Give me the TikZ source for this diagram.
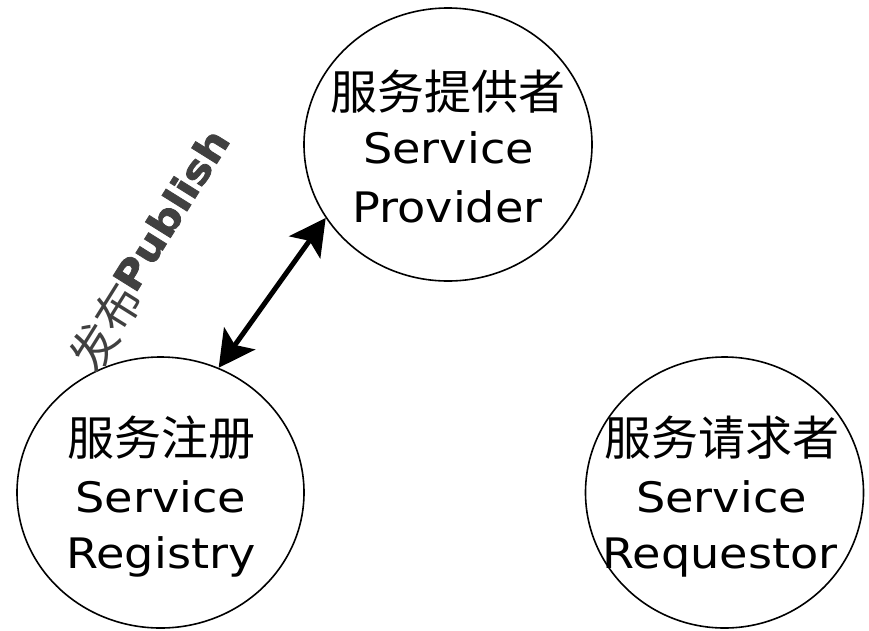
\documentclass[tikz,border=0pt]{standalone}
\usepackage{fontspec}
\newfontfamily\cjk{Noto Sans CJK SC}
\newfontfamily\lat[FakeStretch=1.1]{DejaVu Sans}
\newfontfamily\pubfont[FakeStretch=1.12,FakeBold=2]{DejaVu Sans Bold}
\usetikzlibrary{shapes.geometric,arrows.meta}
\definecolor{labelgray}{HTML}{404040}
\tikzset{
  ell/.style={draw=black, line width=1.6pt, ellipse, inner sep=0pt},
  cjkline/.style={anchor=base, inner sep=0pt, font=\cjk\fontsize{47}{50}\selectfont},
  latline/.style={anchor=base, inner sep=0pt, font=\lat\fontsize{42}{50}\selectfont},
  arr/.style={line width=5pt, {Stealth[length=36pt,width=38pt,inset=8pt]}-{Stealth[length=36pt,width=38pt,inset=8pt]}},
  pub/.style={inner sep=0pt, text=labelgray, rotate=58}
}
\begin{document}
\begin{tikzpicture}[x=1pt,y=-1pt]
\useasboundingbox (0,0) rectangle (869,630);
% circles
\node[ell, minimum width=288pt, minimum height=273pt] (prov) at (448,144.5) {};
\node[ell, minimum width=287pt, minimum height=271pt] (reg) at (160.5,492.5) {};
\node[ell, minimum width=278pt, minimum height=271pt] (req) at (724.5,492.5) {};
% provider text
\node[cjkline] (provA) at (447.5,109) {服务提供者};
\node[latline] (provB) at (448.5,163) {Service};
\node[latline] (provC) at (447.5,222) {Provider};
% registry text
\node[cjkline] (regA) at (161,455) {服务注册};
\node[latline] (regB) at (161,512) {Service};
\node[latline] (regC) at (161,568) {Registry};
% requestor text
\node[cjkline] (reqA) at (721.5,455) {服务请求者};
\node[latline] (reqB) at (721.5,512) {Service};
\node[latline] (reqC) at (720,568) {Requestor};
% publish arrow
\draw[arr] (reg.65.97) -- (prov.211.2);
\node[pub, anchor=center, font=\cjk\fontsize{46}{48}\selectfont] (pubcjk) at (106,327) {发布};
\node[pub, anchor=base west, font=\pubfont\fontsize{39}{41}\selectfont] (pubtxt) at (135,294.5) {Publish};
\end{tikzpicture}
\end{document}
